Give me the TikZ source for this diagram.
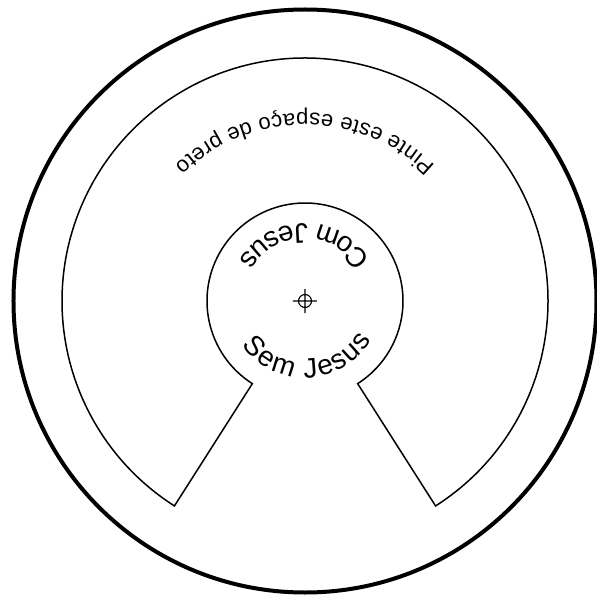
\documentclass[tikz,border=0pt]{standalone}
\usepackage{fontspec}
\newfontfamily\arialfont{Liberation Sans}
\usetikzlibrary{decorations.text}
\begin{document}
\begin{tikzpicture}[x=1pt,y=1pt,
  rim/.style={line width=4pt},
  plate/.style={line width=1.5pt, line join=miter},
  cross/.style={line width=1.1pt},
  curvetext/.style={decorate, decoration={text along path, text align=center, raise=#1}}]
\useasboundingbox (-305,-299) rectangle (292,301);
\draw[rim] (0,0) circle[radius=291.5];
\draw[plate] (302.5:98) -- (302.5:243)
  arc[start angle=302.5,end angle=597.5,radius=243] -- (237.5:98)
  arc[start angle=237.5,end angle=-57.5,radius=98] -- cycle;
\draw[cross] (0,0) circle[radius=6.5] (-12,0) -- (12,0) (0,-12) -- (0,12);
{\arialfont\fontsize{22}{26}\selectfont
\path[curvetext=-18pt, decoration={text={Pinte este espaço de preto}}]
  (0:170) arc[start angle=0,end angle=180,radius=170];
}
{\arialfont\fontsize{28}{32}\selectfont
\path[curvetext=-9pt, decoration={text={Com Jesus}}]
  (0:68) arc[start angle=0,end angle=180,radius=68];
\path[curvetext=-9pt, decoration={text={Sem Jesus}}]
  (182:68) arc[start angle=182,end angle=362,radius=68];
}
\end{tikzpicture}
\end{document}
